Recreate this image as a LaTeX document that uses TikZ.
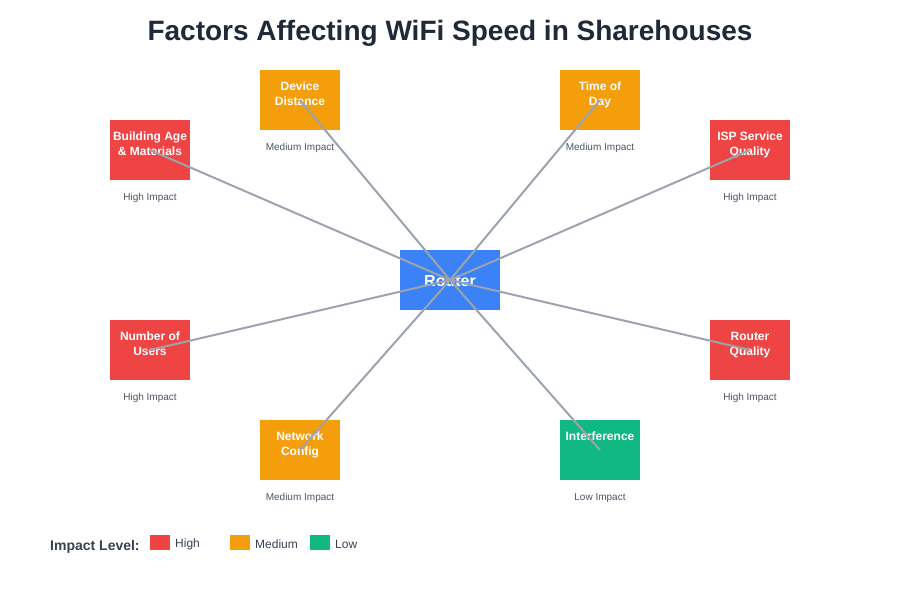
\documentclass[tikz,border=0pt]{standalone}
\usepackage{fontspec}
\setmainfont{Liberation Sans}
\definecolor{cHigh}{HTML}{EF4444}
\definecolor{cMed}{HTML}{F59E0B}
\definecolor{cLow}{HTML}{10B981}
\definecolor{cRouter}{HTML}{3B82F6}
\definecolor{cLine}{HTML}{9CA3AF}
\definecolor{cTitle}{HTML}{1F2937}
\definecolor{cSub}{HTML}{4B5563}
\definecolor{cLeg}{HTML}{374151}
\tikzset{
  factor/.style={rectangle, draw=none, minimum width=80pt, minimum height=60pt, inner sep=0pt},
  ftext/.style={anchor=north, inner sep=0pt, text=white, align=center, font=\fontsize{12}{15}\selectfont\bfseries},
  impact/.style={inner sep=0pt, text=cSub, font=\fontsize{10}{12}\selectfont},
  conn/.style={draw=cLine, line width=2pt},
  swatch/.style={rectangle, minimum width=20pt, minimum height=15pt, inner sep=0pt},
  legtext/.style={anchor=west, inner sep=0pt, text=cLeg, font=\fontsize{12}{14}\selectfont},
}
\begin{document}
\begin{tikzpicture}[x=1pt,y=-1pt]
\useasboundingbox (0,0) rectangle (900,600);
\node[inner sep=0pt, text=cTitle, font=\fontsize{28}{32}\selectfont\bfseries] (title) at (450,33) {Factors Affecting WiFi Speed in Sharehouses};

% router
\node[factor, fill=cRouter, minimum width=100pt] (router) at (450,280) {};
\node[inner sep=0pt, text=white, font=\fontsize{16}{18}\selectfont\bfseries] (routert) at (450,281) {Router};

% factor boxes
\node[factor, fill=cHigh] (b1) at (150,150) {};
\node[ftext] (t1) at (150,132) {Building Age\\\& Materials};
\node[impact] (i1) at (150,198) {High Impact};

\node[factor, fill=cMed] (b2) at (300,100) {};
\node[ftext] (t2) at (300,82) {Device\\Distance};
\node[impact] (i2) at (300,148) {Medium Impact};

\node[factor, fill=cMed] (b3) at (600,100) {};
\node[ftext] (t3) at (600,82) {Time of\\Day};
\node[impact] (i3) at (600,148) {Medium Impact};

\node[factor, fill=cHigh] (b4) at (750,150) {};
\node[ftext] (t4) at (750,132) {ISP Service\\Quality};
\node[impact] (i4) at (750,198) {High Impact};

\node[factor, fill=cHigh] (b5) at (150,350) {};
\node[ftext] (t5) at (150,332) {Number of\\Users};
\node[impact] (i5) at (150,398) {High Impact};

\node[factor, fill=cHigh] (b6) at (750,350) {};
\node[ftext] (t6) at (750,332) {Router\\Quality};
\node[impact] (i6) at (750,398) {High Impact};

\node[factor, fill=cMed] (b7) at (300,450) {};
\node[ftext] (t7) at (300,432) {Network\\Config};
\node[impact] (i7) at (300,498) {Medium Impact};

\node[factor, fill=cLow] (b8) at (600,450) {};
\node[ftext] (t8) at (600,432) {Interference};
\node[impact] (i8) at (600,498) {Low Impact};

% connectors
\foreach \b in {b1,b2,b3,b4,b5,b6,b7,b8}
  \draw[conn] (router.center) -- (\b.center);

% legend
\node[anchor=west, inner sep=0pt, text=cLeg, font=\fontsize{14}{16}\selectfont\bfseries] (legt) at (50,547) {Impact Level:};
\node[swatch, fill=cHigh] (s1) at (160,542.5) {};
\node[legtext] (l1) at (175,544) {High};
\node[swatch, fill=cMed] (s2) at (240,542.5) {};
\node[legtext] (l2) at (255,544) {Medium};
\node[swatch, fill=cLow] (s3) at (320,542.5) {};
\node[legtext] (l3) at (335,544) {Low};
\end{tikzpicture}
\end{document}
